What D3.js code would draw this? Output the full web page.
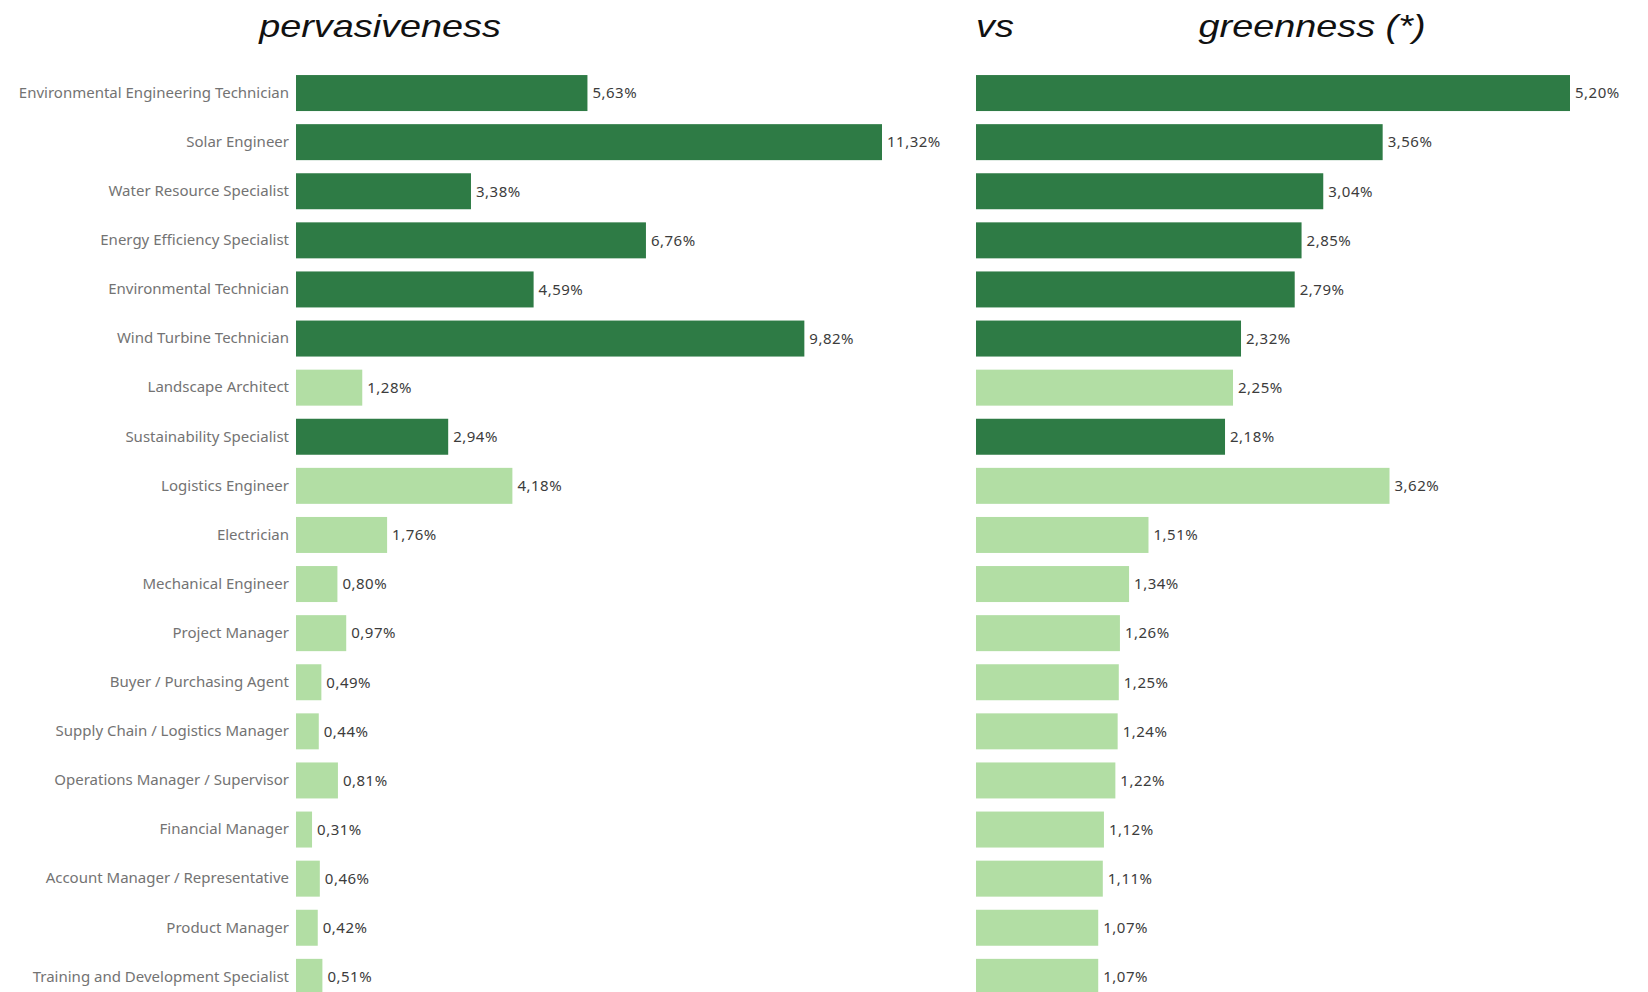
<!DOCTYPE html>
<html>
<head>
<meta charset="utf-8">
<script src="https://cdn.jsdelivr.net/npm/d3@7"></script>
<style>
  html, body { margin: 0; padding: 0; background: #ffffff; }
  svg { display: block; }
</style>
</head>
<body>
<svg id="chart" width="1648" height="992"></svg>
<script>
// Job titles, in display order
const jobs = [
  "Environmental Engineering Technician",
  "Solar Engineer",
  "Water Resource Specialist",
  "Energy Efficiency Specialist",
  "Environmental Technician",
  "Wind Turbine Technician",
  "Landscape Architect",
  "Sustainability Specialist",
  "Logistics Engineer",
  "Electrician",
  "Mechanical Engineer",
  "Project Manager",
  "Buyer / Purchasing Agent",
  "Supply Chain / Logistics Manager",
  "Operations Manager / Supervisor",
  "Financial Manager",
  "Account Manager / Representative",
  "Product Manager",
  "Training and Development Specialist"
];

// Job category used for bar colour
const jobGroup = [
  "green", "green", "green", "green", "green", "green",
  "other", "green", "other", "other", "other", "other",
  "other", "other", "other", "other", "other", "other", "other"
];

// Pervasiveness (%)
const pervasiveness = [
  5.63, 11.32, 3.38, 6.76, 4.59, 9.82, 1.28, 2.94, 4.18, 1.76,
  0.80, 0.97, 0.49, 0.44, 0.81, 0.31, 0.46, 0.42, 0.51
];

// Greenness (%)
const greenness = [
  5.20, 3.56, 3.04, 2.85, 2.79, 2.32, 2.25, 2.18, 3.62, 1.51,
  1.34, 1.26, 1.25, 1.24, 1.22, 1.12, 1.11, 1.07, 1.07
];

// Panel headings
const titles = ["pervasiveness", "vs", "greenness (*)"];

const svg = d3.select("#chart");

const color = d3.scaleOrdinal()
  .domain(["green", "other"])
  .range(["#2e7b45", "#b2dea4"]);

const y = d3.scaleBand()
  .domain(jobs)
  .range([68.5, 1001.4])
  .paddingInner(0.267)
  .paddingOuter(0.1335);

const fmt = v => d3.format(".2f")(v).replace(".", ",") + "%";

const rows = jobs.map((job, i) => ({
  job,
  group: jobGroup[i],
  perv: pervasiveness[i],
  green: greenness[i]
}));

function drawPanel(key, range) {
  const x = d3.scaleLinear()
    .domain([0, d3.max(rows, d => d[key])])
    .range(range);

  const g = svg.append("g");

  g.selectAll("rect")
    .data(rows)
    .join("rect")
    .attr("x", x(0))
    .attr("y", d => y(d.job))
    .attr("width", d => x(d[key]) - x(0))
    .attr("height", y.bandwidth())
    .attr("fill", d => color(d.group));

  g.selectAll("text.value")
    .data(rows)
    .join("text")
    .attr("class", "value")
    .attr("x", d => x(d[key]) + 5)
    .attr("y", d => y(d.job) + y.bandwidth() / 2)
    .attr("dy", "0.35em")
    .attr("font-family", "'Noto Sans', sans-serif")
    .attr("font-size", 15)
    .attr("letter-spacing", 0.5)
    .attr("fill", "#3c3c3c")
    .text(d => fmt(d[key]));

  return x;
}

const xLeft = drawPanel("perv", [296, 882]);
drawPanel("green", [976, 1570]);

// Category axis on the left panel
const yAxis = svg.append("g")
  .attr("transform", `translate(${xLeft(0)},0)`)
  .call(d3.axisLeft(y).tickSize(0).tickPadding(7));
yAxis.select(".domain").remove();
yAxis.selectAll("text")
  .attr("font-family", "'Noto Sans', sans-serif")
  .attr("font-size", 15)
  .attr("fill", "#737373");

// Headings
const headX = [380, 976, 1312];
const headAnchor = ["middle", "start", "middle"];
titles.forEach((t, i) => {
  svg.append("text")
    .attr("transform", `translate(${headX[i]},37) scale(1.22,1)`)
    .attr("text-anchor", headAnchor[i])
    .attr("font-family", "'Liberation Sans', Arial, sans-serif")
    .attr("font-style", "italic")
    .attr("font-size", 31)
    .attr("fill", "#111")
    .text(t);
});
</script>
</body>
</html>
